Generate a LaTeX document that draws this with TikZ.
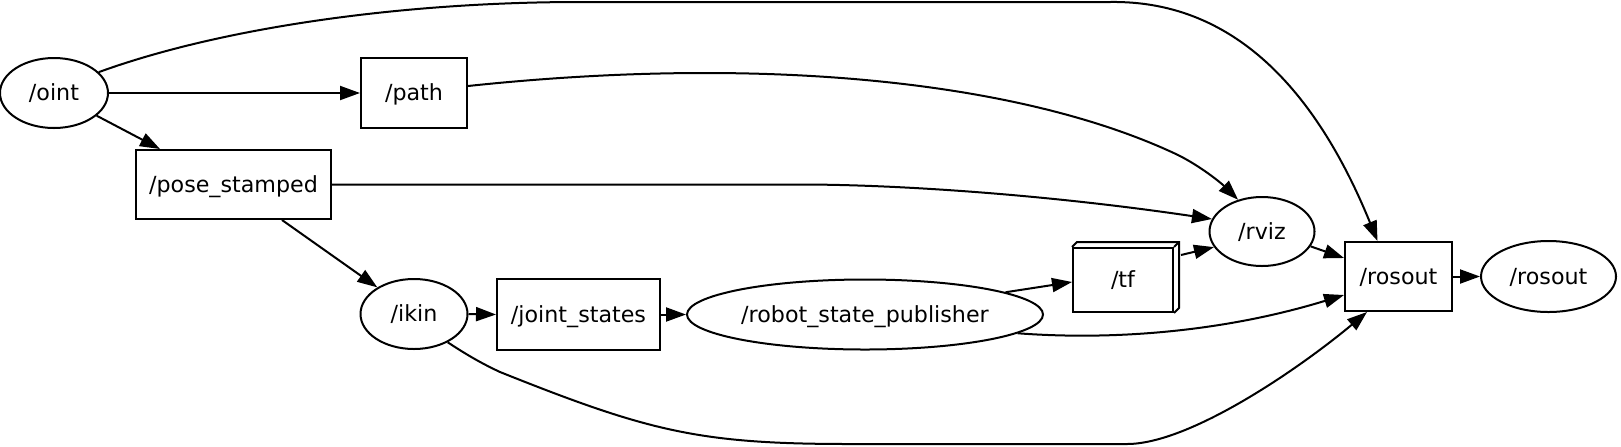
\documentclass[tikz,border=0pt]{standalone}
\usepackage{fontspec}
\setmainfont{DejaVu Sans}
\usetikzlibrary{arrows.meta,shapes.geometric}
\begin{document}
\begin{tikzpicture}[x=0.5pt,y=-0.5pt,
  every node/.style={font=\fontsize{11.1}{13}\selectfont, inner sep=0pt, text height=0.76em, text depth=0pt},
  topic/.style={rectangle, draw, line width=1pt},
  rosnode/.style={ellipse, draw, line width=1pt},
  conn/.style={line width=1pt, -{Triangle[length=10pt,width=7pt]}},
]
\useasboundingbox (0,0) rectangle (1621,446);
\node[rosnode, minimum width=54pt, minimum height=35pt] (oint) at (54,93) {/oint};
\node[topic, minimum width=53pt, minimum height=35pt] (path) at (414,93) {/path};
\node[topic, minimum width=97.5pt, minimum height=34.5pt] (pose) at (233.5,184.5) {/pose\_stamped};
\node[rosnode, minimum width=53.5pt, minimum height=35pt] (ikin) at (414,314) {/ikin};
\node[topic, minimum width=81.5pt, minimum height=35.5pt] (joints) at (578.5,314.5) {/joint\_states};
\node[rosnode, minimum width=178pt, minimum height=35pt] (rsp) at (865,314.5) {/robot\_state\_publisher};
\node[topic, minimum width=50pt, minimum height=32pt] (tf) at (1123,280) {/tf};
\node[rosnode, minimum width=52.5pt, minimum height=34.5pt] (rviz) at (1262,231.5) {/rviz};
\node[topic, minimum width=53.5pt, minimum height=34.5pt] (rosoutT) at (1398.5,276.5) {/rosout};
\node[rosnode, minimum width=67.5pt, minimum height=35.5pt] (rosoutN) at (1548.5,276.5) {/rosout};
% 3D box decoration of /tf
\draw[line width=1pt] (tf.north west) -- ++(5,-5) -- ([shift={(5,-5)}]tf.north east) -- ([shift={(5,-5)}]tf.south east) -- (tf.south east);
\draw[line width=1pt] (tf.north east) -- ++(5,-5);
% connectors
\draw[conn] (oint.25) .. controls (220,28) and (400,2) .. (580,2) -- (1110,2) .. controls (1240,0) and (1320,100) .. ([xshift=-10.5pt]rosoutT.north);
\draw[conn] (oint.east) -- (path.west);
\draw[conn] (oint.-28) -- ([xshift=-36.75pt]pose.north);
\draw[conn] ([yshift=3.5pt]path.east) .. controls (760,55) and (1020,80) .. (1178,155) .. controls (1200,166) and (1220,182) .. (rviz.127);
\draw[conn] (pose.east) -- (800,184.5) .. controls (900,184.5) and (1050,195) .. (rviz.166);
\draw[conn] ([xshift=24.25pt]pose.south) -- (ikin.144);
\draw[conn] (ikin.east) -- (joints.west);
\draw[conn] (ikin.-40) .. controls (470,357) and (485,365) .. (500,372) .. controls (650,432) and (700,444) .. (850,444) -- (1127,444) .. controls (1190,444) and (1300,368) .. ([xshift=-15.75pt]rosoutT.south);
\draw[conn] (joints.east) -- (rsp.west);
\draw[conn] (rsp.9) -- ([yshift=-1pt]tf.west);
\draw[conn] (rsp.-7) .. controls (1120,341) and (1230,330) .. ([yshift=-9.25pt]rosoutT.west);
\draw[conn] ([xshift=3.5pt,yshift=-4pt]tf.north east) -- (rviz.198);
\draw[conn] (rviz.-17) -- ([yshift=9.25pt]rosoutT.west);
\draw[conn] (rosoutT.east) -- (rosoutN.west);
\end{tikzpicture}
\end{document}
